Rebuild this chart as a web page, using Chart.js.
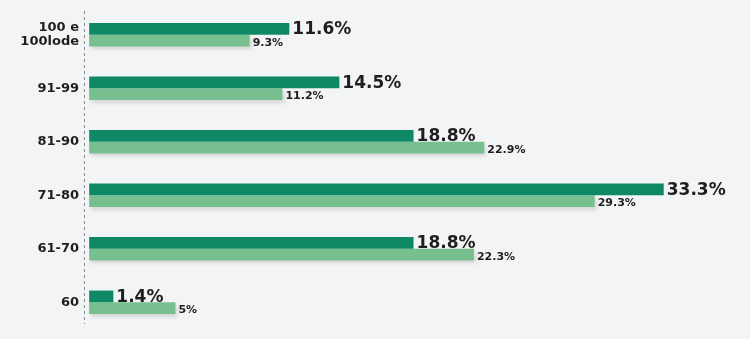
<!DOCTYPE html>
<html>
<head>
<meta charset="utf-8">
<script src="https://cdn.jsdelivr.net/npm/chart.js@4/dist/chart.umd.min.js"></script>
<style>
  html, body { margin: 0; padding: 0; background: #f3f4f6; }
  #wrap { width: 750px; height: 339px; position: relative; }
</style>
</head>
<body>
<div id="wrap"><canvas id="c"></canvas></div>
<script>
const categories = [["100 e", "100lode"], "91-99", "81-90", "71-80", "61-70", "60"];
const seriesA = [11.6, 14.5, 18.8, 33.3, 18.8, 1.4];
const seriesB = [9.3, 11.2, 22.9, 29.3, 22.3, 5];
const labelsA = ["11.6%", "14.5%", "18.8%", "33.3%", "18.8%", "1.4%"];
const labelsB = ["9.3%", "11.2%", "22.9%", "29.3%", "22.3%", "5%"];

const DARK = '#0f8865';
const LIGHT = '#77bf8f';
const FONT = '"DejaVu Sans", sans-serif';

const shadowPlugin = {
  id: 'shadow',
  beforeDatasetDraw(chart, args) {
    const ctx = chart.ctx;
    ctx.save();
    if (args.index === 1) {
      ctx.shadowColor = 'rgba(0,0,0,0.13)';
      ctx.shadowBlur = 4;
      ctx.shadowOffsetX = 2;
      ctx.shadowOffsetY = 3;
    }
  },
  afterDatasetDraw(chart) {
    chart.ctx.restore();
  }
};

const dashedAxis = {
  id: 'dashedAxis',
  afterDraw(chart) {
    const ctx = chart.ctx;
    const ca = chart.chartArea;
    const x = Math.round(chart.scales.y.right) + 0.5;
    ctx.save();
    ctx.strokeStyle = '#8a8a8a';
    ctx.lineWidth = 1;
    ctx.setLineDash([3, 3]);
    ctx.beginPath();
    ctx.moveTo(x, ca.top + 3);
    ctx.lineTo(x, ca.bottom - 5);
    ctx.stroke();
    ctx.restore();
  }
};

const valueLabels = {
  id: 'valueLabels',
  afterDatasetsDraw(chart) {
    const ctx = chart.ctx;
    ctx.save();
    ctx.fillStyle = '#1e1e1e';
    ctx.textAlign = 'left';
    ctx.textBaseline = 'alphabetic';
    const sets = [
      { idx: 0, texts: labelsA, font: 'bold 17px ' + FONT },
      { idx: 1, texts: labelsB, font: 'bold 11px ' + FONT }
    ];
    sets.forEach(s => {
      const meta = chart.getDatasetMeta(s.idx);
      ctx.font = s.font;
      meta.data.forEach((bar, i) => {
        const bottom = bar.y + bar.height / 2;
        ctx.fillText(s.texts[i], bar.x + 3, bottom - 0.5);
      });
    });
    ctx.restore();
  }
};

new Chart(document.getElementById('c'), {
  type: 'bar',
  data: {
    labels: categories,
    datasets: [
      { data: seriesA, backgroundColor: DARK, barPercentage: 1, categoryPercentage: 0.437 },
      { data: seriesB, backgroundColor: LIGHT, barPercentage: 1, categoryPercentage: 0.437 }
    ]
  },
  options: {
    indexAxis: 'y',
    responsive: true,
    maintainAspectRatio: false,
    animation: false,
    layout: { padding: { top: 8, bottom: 10, left: 0, right: 0 } },
    plugins: { legend: { display: false }, tooltip: { enabled: false } },
    scales: {
      x: {
        display: false,
        min: -0.3,
        max: 38.3
      },
      y: {
        afterFit(scale) {
          scale.width = 84;
          scale.paddingTop = 0;
          scale.paddingBottom = 0;
        },
        grid: { display: false, drawTicks: false },
        border: { display: false },
        ticks: {
          padding: 5,
          color: '#1e1e1e',
          font: { family: FONT, size: 13, weight: 'bold', lineHeight: 1.05 }
        }
      }
    }
  },
  plugins: [shadowPlugin, valueLabels, dashedAxis]
});
</script>
</body>
</html>
